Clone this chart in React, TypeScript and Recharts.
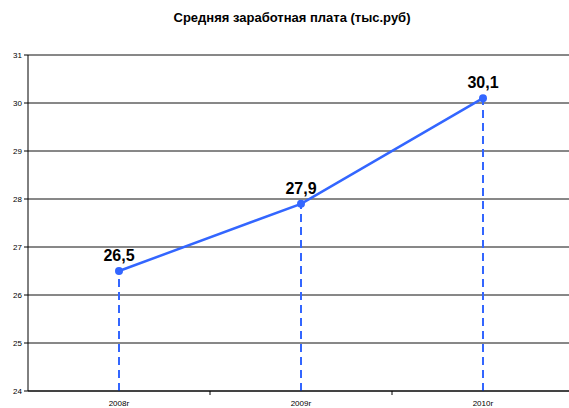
import React from 'react';
import {
  LineChart,
  Line,
  XAxis,
  YAxis,
  CartesianGrid,
  ReferenceLine,
  LabelList,
} from 'recharts';

const years = ['2008г', '2009г', '2010г'];
const salary = [26.5, 27.9, 30.1];
const yTicks = [24, 25, 26, 27, 28, 29, 30, 31];

const data = years.map((year, i) => ({ year, salary: salary[i] }));

const BLUE = '#3366ff';
const CHART_W = 574;
const AXIS_W = 28;
const HALF_BAND = (CHART_W - AXIS_W) / years.length / 2;

function YearTick({ x, y, payload }: any) {
  return (
    <g>
      <line x1={x + HALF_BAND} y1={y - 8} x2={x + HALF_BAND} y2={y - 4} stroke="#000" />
      <text x={x} y={y + 7} textAnchor="middle" fontSize={8} fill="#000">
        {payload.value}
      </text>
    </g>
  );
}

export default function App() {
  return (
    <div
      style={{
        position: 'fixed',
        left: 0,
        top: 0,
        width: 569,
        height: 408,
        overflow: 'hidden',
        background: '#fff',
        fontFamily: '"Liberation Sans", Arial, sans-serif',
      }}
    >
      <div
        style={{
          position: 'absolute',
          top: 10,
          left: 0,
          width: 584,
          textAlign: 'center',
          fontWeight: 'bold',
          fontSize: 13,
        }}
      >
        Средняя заработная плата (тыс.руб)
      </div>
      <LineChart
        width={CHART_W}
        height={420}
        data={data}
        margin={{ top: 55, right: 0, bottom: 0, left: 0 }}
      >
        <CartesianGrid horizontal vertical={false} stroke="#111" strokeWidth={1} />
        <XAxis
          dataKey="year"
          scale="band"
          height={29}
          stroke="#000"
          tickLine={false}
          tick={<YearTick />}
        />
        <YAxis
          domain={[24, 31]}
          ticks={yTicks}
          width={AXIS_W}
          stroke="#000"
          tickSize={4}
          tickMargin={2}
          tick={{ fontSize: 8, fill: '#000' }}
        />
        {years.map((year, i) => (
          <ReferenceLine
            key={year}
            segment={[
              { x: year, y: 24 },
              { x: year, y: salary[i] },
            ]}
            stroke={BLUE}
            strokeWidth={2}
            strokeDasharray="8 5"
          />
        ))}
        <Line
          dataKey="salary"
          stroke={BLUE}
          strokeWidth={2.5}
          dot={{ r: 4, fill: BLUE, stroke: BLUE, strokeWidth: 0 }}
          isAnimationActive={false}
        >
          <LabelList
            dataKey="salary"
            position="top"
            offset={10}
            formatter={(v: any) => String(v).replace('.', ',')}
            style={{ fontSize: 16, fontWeight: 'bold', fill: '#000' }}
          />
        </Line>
      </LineChart>
    </div>
  );
}
